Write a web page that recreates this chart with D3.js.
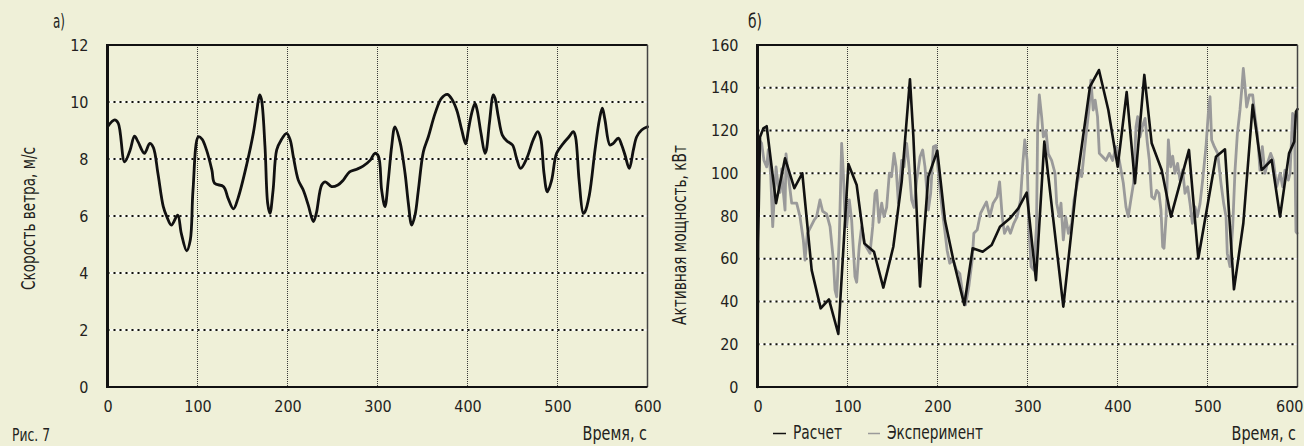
<!DOCTYPE html>
<html><head><meta charset="utf-8">
<script src="https://cdn.jsdelivr.net/npm/d3@7"></script>
<style>
html,body{margin:0;padding:0;background:#eff0d8;}
svg{display:block;}
text{font-family:"Liberation Sans Narrow","DejaVu Sans Condensed","Liberation Sans",sans-serif;fill:#231f20;}
</style></head><body>
<svg id="chart" width="1304" height="446"></svg>
<script>
// ---- data ----
const xTicks = [0, 100, 200, 300, 400, 500, 600];
const windTicks = [0, 2, 4, 6, 8, 10, 12];
const powerTicks = [0, 20, 40, 60, 80, 100, 120, 140, 160];

const windTime = [0,8,12,19,25,30,34,41,47,51,56,62,66,71,78,82,88,92,95,101,105,110,116,119,129,134,140,145,155,162,166,169,171,175,178,180.5,184,188,193,199,203,206.5,212,217.5,223,228.7,232,238,242,249,256,262,269,277,284,292,297,301,304.6,308.3,312,315.7,319.4,325,330.6,334.3,338,341.7,345.4,351,356.5,364,371,377.6,382,388,393.6,398,401,404.6,408.3,410.7,415,419.4,421,424.3,428.7,430.6,434.2,438.7,443.5,450,454.6,459,465.8,473,478,481.3,485,488.7,493.5,499,506.5,512.8,517.6,520,524,528.7,530.6,535.4,541.7,546.5,549.8,552.6,558.3,562,567.6,571.3,575,579.8,584.3,588,593.5,600];
const windSpeed = [9.13,9.37,9.25,7.9,8.3,8.8,8.6,8.2,8.55,8.4,7.5,6.33,5.97,5.68,6.03,5.39,4.78,5.16,6.91,8.78,8.7,8.32,7.61,7.15,7.03,6.62,6.25,6.62,7.85,8.9,9.72,10.25,10.1,8.43,6.44,6.09,6.91,8.32,8.67,8.9,8.67,8.08,7.26,6.91,6.39,5.8,6.09,7.09,7.2,7.03,7.09,7.26,7.55,7.64,7.75,7.96,8.2,8.1,6.91,6.33,7.26,8.43,9.13,8.6,7.5,6.44,5.68,6.03,6.91,8.26,8.78,9.6,10.13,10.27,10.13,9.72,9.02,8.53,9.02,9.6,9.95,9.72,8.9,8.2,8.32,9.25,10.25,10.13,9.49,8.84,8.64,8.49,8.02,7.67,8.02,8.67,8.96,8.73,7.5,6.85,7.26,8.2,8.55,8.78,8.96,8.78,7.26,6.09,6.15,6.74,8.32,9.37,9.78,9.4,8.49,8.55,8.73,8.49,8.14,7.67,8.32,8.78,9.02,9.13];

const calcTime = [0,0.7,2.8,6.5,10.2,20.6,30.6,40.9,49.8,60.2,70.2,79.4,89.8,101,110.2,118.7,129.4,139.8,150.9,160.2,169.4,173.2,180.6,189.8,199.8,208.3,217.6,229.8,239.1,250.2,260.2,269.4,280.6,289.8,299.1,309.4,318.7,339.8,354.6,369.4,379.4,389.8,400.2,410.2,419.4,429.8,438,449.1,459.4,479.4,489.8,509.4,519.4,529.4,539.8,550.2,560.2,571.3,580.6,590.6,596.4,598.3,600];
const calcPower = [0,68,117,121,122,86,107,93,100,54.7,36.8,41,24.8,104.3,94.5,67.2,63.3,46.5,65.6,96,144,117,47,98.4,110.5,78,59.4,38.4,64.9,63.3,66.4,75,78.9,83.6,90.9,50,114.8,37.6,95.3,140.5,148.3,129.6,103,138,95.3,146,114,101.5,79.7,110.9,60.2,107.7,111.2,45.7,76.6,132,101.5,106.2,79.7,109.3,114.8,128.8,130];

const expTime = [0,2,4.6,7.2,10.2,12,14.6,16.9,18.3,20.6,23,25,26.9,28.7,30.6,31.7,34.4,38,43.5,47.2,50.9,52.8,55.4,58.3,62.8,65.7,69.4,72.4,76.8,80.6,84.3,86.1,88,90.9,93.5,95.4,97.2,99,102,104.6,108.3,110.2,113,115.7,119.4,125,128,130.6,132.4,135,138,140.5,143.5,146.5,149,151.7,154,156.5,160.2,162.8,165.7,168.7,171.3,173.9,176.9,180.6,183.5,186.1,189.8,192.4,195.4,198.2,200.8,205.2,208,210.7,213.6,217.4,221,224.8,227.4,231.1,234.8,238.5,240.4,244.1,247.8,251.5,254.4,258.1,261.8,266.3,269,271.9,274.4,278.1,281,284.8,288.5,292.2,294.8,297,299.6,301.5,304,307,310,311.3,313.1,315.7,317.6,320.5,323.1,326.8,330.6,332.4,335.4,337.2,339.8,342.4,345.4,349.1,351.7,354.6,358.3,360.2,362.8,368.5,370.4,373,375.2,377.8,379.8,383.5,387.2,390.9,394.6,398.3,402,406.5,409.4,412,414.8,417.8,420.6,422.4,425,427.6,430.6,433.2,435.4,438,441,443.5,446.1,448.3,450.2,451.7,454,456.5,459.1,461.3,463.9,466.8,469.4,472.4,475,478,480.6,483.2,486.1,488.7,491.7,494.6,498.3,500.9,502.8,504.6,507.6,511.3,515,518,520.6,522,525,528,530.6,533.2,536.1,538,539.8,541.7,543.5,546.5,550.2,552.8,555.4,558.3,560.9,563.9,566.5,570.2,573.1,576.9,580.6,583.5,586.1,589.8,591.7,594.6,596.5,598.3,599.5];
const expPower = [103,115.6,114,106,103,111,100,75,86,103,94,91,102,91,82.8,109,98.4,86,86,79.7,68.8,59.4,71.9,74.2,78,79.7,87.5,82.2,81,75,59.4,45.4,42.2,70,114,100,79.7,75,87.5,78,51.6,49,65.6,75,66.6,62.5,75,90.6,92,77,86,79.7,84,100,98.4,109.3,103,86,106,103,114,101.5,87.5,84,96.8,107.7,110.9,103,82.8,90.6,112.4,113,101,82.8,73.5,64,57.9,59.4,54.7,53,45.4,38.4,47,59.4,71.9,73.5,81.2,84.3,86.6,79.7,86,89,96,79.7,71.9,75,71.9,76.6,79.7,87.5,104.6,115.6,106,75,56.3,54.7,75,121.8,136.6,126.5,117,120,109,106,100,86,79.7,86,68.8,79.7,71.9,76.6,87.5,93.7,101.5,98.4,109,131,143.6,129.6,134.2,126.5,109.3,107.7,106,109.3,106,112.4,106,95.3,84.3,79.7,87.5,95.3,121.8,126.5,117,121.8,125.7,114,106,89,88,92,90.6,82.8,65.6,64.9,79.7,115.6,103,108,100,104.6,96.8,101.5,90.6,93.7,85.8,76.6,84.3,79.7,85.8,96.8,112.4,128,135.8,115.6,112.4,109.3,95.3,85.8,79.7,62.5,56.3,75,101.5,118.6,129.6,139,149,140.5,131,136.6,136.6,126.5,118.6,101.5,112.4,100,104.6,109.3,106,93.7,100,93.7,101.5,96.8,100,128,126.5,72.7,72];

// ---- drawing ----
const svg = d3.select("#chart");

function panel(opt) {
  const x = d3.scaleLinear().domain([0, 600]).range([opt.x0, opt.x1]);
  const y = d3.scaleLinear().domain(opt.yDomain).range([387, 45]);
  const g = svg.append("g");

  // vertical grid
  g.selectAll(".vg").data(xTicks.slice(1, -1)).join("line")
    .attr("x1", d => x(d)).attr("x2", d => x(d))
    .attr("y1", 45).attr("y2", 387)
    .attr("stroke", "#3a3a3a").attr("stroke-width", 1).attr("stroke-dasharray", "1,1");
  // horizontal grid: white dashes + black dots
  const hg = opt.yTicks.slice(1, -1);
  g.selectAll(".hgw").data(hg).join("line")
    .attr("x1", opt.x0).attr("x2", opt.x1)
    .attr("y1", d => y(d)).attr("y2", d => y(d))
    .attr("stroke", "#ffffff").attr("stroke-width", 1.3).attr("stroke-dasharray", "0,2.5,3,0.5");
  g.selectAll(".hgb").data(hg).join("line")
    .attr("x1", opt.x0).attr("x2", opt.x1)
    .attr("y1", d => y(d)).attr("y2", d => y(d))
    .attr("stroke", "#111").attr("stroke-width", 2).attr("stroke-dasharray", "2,4");

  // series
  opt.series.forEach(s => {
    const pts = s.t.map((t, i) => [t, s.v[i]]);
    g.append("path").datum(pts)
      .attr("fill", "none").attr("stroke", s.color).attr("stroke-width", s.width)
      .attr("stroke-linejoin", "round").attr("stroke-linecap", "round")
      .attr("d", d3.line().x(d => x(d[0])).y(d => y(d[1])).curve(s.curve));
  });

  // frame
  g.append("line").attr("x1", opt.x0).attr("x2", opt.x1).attr("y1", 45).attr("y2", 45)
    .attr("stroke", "#111").attr("stroke-width", 2);
  g.append("line").attr("x1", opt.x1).attr("x2", opt.x1).attr("y1", 45).attr("y2", 387)
    .attr("stroke", "#444").attr("stroke-width", 1.5);
  g.append("line").attr("x1", opt.x0 - 1).attr("x2", opt.x1).attr("y1", 387).attr("y2", 387)
    .attr("stroke", "#111").attr("stroke-width", 2);
  g.append("line").attr("x1", opt.x0).attr("x2", opt.x0).attr("y1", 44).attr("y2", 388)
    .attr("stroke", "#111").attr("stroke-width", 3);

  // axes (labels only)
  const ax = g.append("g").attr("transform", "translate(0,387)")
    .call(d3.axisBottom(x).tickValues(xTicks).tickSize(0).tickPadding(14));
  ax.select(".domain").remove();
  ax.selectAll("text").attr("font-size", 16).attr("font-family", null);
  if (opt.clampLast) {
    ax.selectAll("text").filter(d => d === 600)
      .attr("text-anchor", "end").attr("x", 1303 - x(600));
  }
  const ay = g.append("g").attr("transform", `translate(${opt.x0},0)`)
    .call(d3.axisLeft(y).tickValues(opt.yTicks).tickSize(0).tickPadding(19));
  ay.select(".domain").remove();
  ay.selectAll("text").attr("font-size", 16).attr("font-family", null);
}

panel({
  x0: 107.5, x1: 647.5, yDomain: [0, 12], yTicks: windTicks,
  series: [{ t: windTime, v: windSpeed, color: "#111", width: 2.8, curve: d3.curveCatmullRom.alpha(0.5) }]
});
panel({
  x0: 757.5, x1: 1297.5, yDomain: [0, 160], yTicks: powerTicks, clampLast: true,
  series: [
    { t: expTime, v: expPower, color: "#9a9a9a", width: 2.8, curve: d3.curveLinear },
    { t: calcTime, v: calcPower, color: "#111", width: 2.6, curve: d3.curveLinear }
  ]
});

// texts
function txt(s, x, y, len, opts = {}) {
  const t = svg.append("text").attr("x", x).attr("y", y).attr("font-size", opts.size || 20).text(s);
  if (len) t.attr("textLength", len).attr("lengthAdjust", "spacingAndGlyphs");
  if (opts.rotate) t.attr("transform", `rotate(-90,${x},${y})`).attr("text-anchor", "middle");
  if (opts.anchor) t.attr("text-anchor", opts.anchor);
  if (opts.fill) t.attr("fill", opts.fill);
  return t;
}
function squeezed(s, xEnd, y, size, sx) {
  return svg.append("text").attr("transform", `translate(${xEnd},${y}) scale(${sx},1)`)
    .attr("text-anchor", "end").attr("font-size", size).text(s);
}
txt("а)", 53, 28, 12);
txt("б)", 748, 28, 14);
txt("Скорость ветра, м/с", 35, 218.5, 143, { rotate: true });
txt("Активная мощность, кВт", 686, 235, 180, { rotate: true });
squeezed("Время, с", 647, 440, 20, 0.8);
squeezed("Время, с", 1296, 440, 20, 0.8);
txt("Рис. 7", 12, 441, 38, { size: 18 });

// legend
svg.append("line").attr("x1", 773).attr("x2", 786).attr("y1", 433.5).attr("y2", 433.5)
  .attr("stroke", "#111").attr("stroke-width", 1.5);
txt("Расчет", 793, 439, 49);
svg.append("line").attr("x1", 868).attr("x2", 880).attr("y1", 433.5).attr("y2", 433.5)
  .attr("stroke", "#9a9a9a").attr("stroke-width", 1.5);
txt("Эксперимент", 887, 439, 96);
</script>
</body></html>
